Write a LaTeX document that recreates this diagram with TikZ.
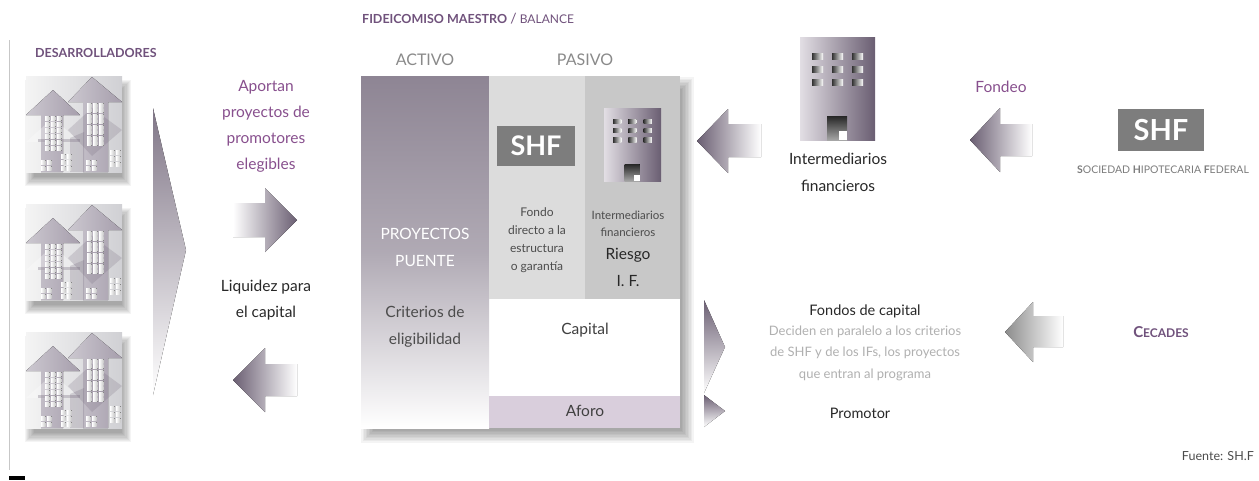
\documentclass[tikz,border=0pt]{standalone}
\usepackage{fontspec}
\setmainfont{Lato}

\definecolor{plum}{RGB}{112,82,124}
\definecolor{plumtxt}{RGB}{136,80,142}
\definecolor{arrdark}{RGB}{106,94,114}
\definecolor{actgray}{RGB}{142,133,148}
\definecolor{midgray}{RGB}{220,220,220}
\definecolor{rgtgray}{RGB}{200,200,200}
\definecolor{aforo}{RGB}{217,206,220}
\definecolor{shfgray}{RGB}{125,125,125}
\definecolor{txtgray}{RGB}{138,138,138}
\definecolor{softgray}{RGB}{176,176,176}
\definecolor{darktxt}{RGB}{40,40,40}
\definecolor{bldl}{RGB}{226,222,228}
\definecolor{bldr}{RGB}{106,94,114}
\definecolor{icbgl}{RGB}{244,244,244}
\definecolor{icbgr}{RGB}{208,208,212}
\definecolor{icarl}{RGB}{204,200,208}
\definecolor{icard}{RGB}{166,158,172}

\newcommand{\fsz}[2]{\fontsize{#1}{#2}\selectfont}
% soft shadow: rectangle #1,#2 -- #3,#4, offset #5,#6, blur radius #7
\newcommand{\softshadow}[7]{%
  \foreach \k in {0,...,8}{
    \pgfmathsetmacro{\ins}{-#7+\k*#7/4.5}
    \fill[black, opacity=0.045] (#1+#5+\ins, #2+#6+\ins) rectangle (#3+#5-\ins, #4+#6-\ins);
  }}

\tikzset{
  lbl/.style={inner sep=0pt, align=center},
  % stylized office tower, 75 x 103 in local units
  tower/.pic={
    \fill[left color=bldl, right color=bldr] (0,0) rectangle (75,103);
    \foreach \cx in {12,32,52}{
      \foreach \cy in {16,29,42}{
        \fill[left color=black!80, right color=white] (\cx,\cy) rectangle ++(11,6);
      }
    }
    \fill[top color=black!85, bottom color=black!35] (27,79) rectangle (47,103);
    \fill[white] (39,94) rectangle (47,103);
  },
  % developer icon: two rising building arrows, 96 x 96 in local units
  devicon/.pic={
    \softshadow{0}{0}{96}{96}{4}{9}{5}
    \fill[left color=icbgl, right color=icbgr] (0,0) rectangle (96,96);
    \fill[left color=icarl, right color=icard] (27,14) -- (54,39) -- (37,39) -- (37,96) -- (15,96) -- (15,39) -- (0,39) -- cycle;
    \fill[white, opacity=0.3] (0,66) -- (27,42) -- (54,66) -- cycle;
    \fill[left color=icarl, right color=icard] (66,1) -- (96,26) -- (82,26) -- (82,96) -- (57,96) -- (57,26) -- (42,26) -- cycle;
    \fill[arrdark, opacity=0.2] (42,54) -- (66,32) -- (96,54) -- (66,80) -- cycle;
    \fill[arrdark, opacity=0.3] (12,63) rectangle (54,66);
    \fill[arrdark, opacity=0.22] (44,62) -- (58,56) -- (58,96) -- (44,96) -- cycle;
    \foreach \cx in {19,25,31}{
      \foreach \k in {0,...,5}{
        \fill[left color=white, right color=black!22] (\cx,40+6*\k) rectangle ++(4.5,4.5);
      }
    }
    \foreach \cx in {61,67,73}{
      \foreach \k in {0,...,7}{
        \fill[left color=white, right color=black!22] (\cx,27+5.5*\k) rectangle ++(4.5,4);
      }
    }
    \foreach \cx/\cy in {15/84,21/84,15/90,21/90,35/78,41/78,35/84,41/84,35/90,41/90,
                         60/84,66/84,60/90,66/90,84/74,90/74,84/80,90/80,84/86,90/86}{
      \fill[left color=white, right color=black!22] (\cx,\cy) rectangle ++(4.5,4);
    }
  }
}

\begin{document}
\begin{tikzpicture}[x=1pt, y=-1pt]
\useasboundingbox (0,0) rectangle (1259,480);
\fill[white] (0,0) rectangle (1259,480);

% ---------- left margin rule ----------
\coordinate (rt) at (9,40);
\coordinate (rb) at (9,470);
\draw[black!22, line width=1pt] (rt) -- (rb);
\fill[black] (9,476) rectangle (25,480);

% ---------- developers ----------
\node[lbl, anchor=west, text=plum, font=\bfseries\fsz{12.5}{14}] (dev) at (35,53) {DESARROLLADORES};
\pic (ic1) at (26,76) {devicon};
\pic (ic2) at (26,204) {devicon};
\pic (ic3) at (26,332) {devicon};

% large wedge pointing to the flows
\fill[top color=arrdark!85, bottom color=white] (153,108) -- (186,250) -- (153,395) -- cycle;

\node[lbl, text=plumtxt, font=\fsz{15.5}{26}] (aportan) at (266,126) {Aportan\\proyectos de\\promotores\\elegibles};
\fill[left color=white, right color=arrdark] (233,203) -- (265,203) -- (265,188) -- (297,220) -- (265,252) -- (265,237) -- (233,237) -- cycle;
\node[lbl, text=darktxt, font=\fsz{15.5}{26}] (liq) at (266,300) {Liquidez para\\el capital};
\fill[left color=arrdark, right color=white] (233,380) -- (265,348) -- (265,364) -- (297,364) -- (297,396) -- (265,396) -- (265,412) -- cycle;

% ---------- trust balance ----------
\node[lbl, anchor=base west, font=\fsz{12.5}{14}] (title) at (362,23)
  {\textcolor{plum}{\bfseries FIDEICOMISO MAESTRO} \textcolor{plum}{\fsz{14}{14}/} \textcolor{plum}{\fsz{12}{14}BALANCE}};
\node[lbl, text=txtgray, font=\fsz{16}{16}] (activo) at (425,60) {ACTIVO};
\node[lbl, text=txtgray, font=\fsz{16}{16}] (pasivo) at (585,60) {PASIVO};

\softshadow{361}{76}{680}{428}{7}{8}{7}
\fill[white] (361,76) rectangle (680,428);
\fill[top color=actgray, bottom color=white, middle color=actgray!70!white] (361,76) rectangle (489,428);
\fill[midgray] (489,76) rectangle (585,299);
\fill[rgtgray] (585,76) rectangle (680,299);
\fill[aforo] (489,396) rectangle (680,428);

\node[lbl, text=white, font=\fsz{15.5}{27}] (puente) at (425,247) {PROYECTOS\\PUENTE};
\node[lbl, text=black!70, font=\fsz{15.5}{27}] (crit) at (425,327) {Criterios de\\eligibilidad};

\node[fill=shfgray, text=white, inner sep=0pt, minimum width=78pt, minimum height=40pt,
      font=\bfseries\fsz{27}{27}] (shfa) at (536,146) {SHF};
\node[lbl, text=black!70, font=\fsz{12}{18}] (fondo) at (537,240) {Fondo\\directo a la\\estructura\\o garantía};

\pic[xscale=0.76, yscale=0.71] (twa) at (604,108) {tower};
\node[lbl, text=black!70, font=\fsz{11.5}{17}] (ifa) at (628,224) {Intermediarios\\financieros};
\node[lbl, text=darktxt, font=\fsz{15.5}{27}] (riesgo) at (628,267) {Riesgo\\I. F.};

\node[lbl, text=black!75, font=\fsz{15.5}{16}] (capital) at (585,330) {Capital};
\node[lbl, text=black!75, font=\fsz{15.5}{16}] (aforotxt) at (585,411) {Aforo};

% ---------- financial intermediaries ----------
\fill[left color=arrdark, right color=white] (697,141) -- (728,109) -- (728,124) -- (761,124) -- (761,157) -- (728,157) -- (728,173) -- cycle;
\pic (twb) at (800,37) {tower};
\node[lbl, text=darktxt, font=\fsz{15.5}{27}] (ifb) at (838,172) {Intermediarios\\financieros};

\node[lbl, text=plumtxt, font=\fsz{15.5}{16}] (fondeo) at (1001,87) {Fondeo};
\fill[left color=arrdark, right color=white] (970,140) -- (1000,108) -- (1000,124) -- (1032,124) -- (1032,156) -- (1000,156) -- (1000,172) -- cycle;

\node[fill=shfgray, text=white, inner sep=0pt, minimum width=86pt, minimum height=42pt,
      font=\bfseries\fsz{29}{29}] (shfb) at (1161,130) {SHF};
\node[lbl, text=shfgray, font=\fsz{10.5}{11}] (shfname) at (1163,170)
  {{\bfseries S}OCIEDAD {\bfseries H}IPOTECARIA {\bfseries F}EDERAL};

% ---------- capital funds and promoter ----------
\fill[top color=arrdark, bottom color=white] (704,300) -- (725,347) -- (704,393) -- cycle;
\fill[top color=arrdark, bottom color=white] (704,395) -- (725,411) -- (704,427) -- cycle;

\node[lbl, text=darktxt, font=\fsz{14.5}{16}] (fondos) at (865,311) {Fondos de capital};
\node[lbl, text=softgray, font=\fsz{13}{21.5}] (deciden) at (865,353)
  {Deciden en paralelo a los criterios\\de SHF y de los IFs, los proyectos\\que entran al programa};
\node[lbl, text=darktxt, font=\fsz{14.5}{16}] (promotor) at (860,413) {Promotor};

\fill[left color=black!45, right color=white] (1005,332) -- (1033,302) -- (1033,316) -- (1063,316) -- (1063,347) -- (1033,347) -- (1033,362) -- cycle;
\node[lbl, text=plum, font=\bfseries] (cecades) at (1161,332) {{\fsz{15}{15}C}{\fsz{12}{15}ECADES}};

\node[lbl, anchor=east, text=black!70, font=\fsz{12.5}{14}] (fuente) at (1254,456) {Fuente: SH.F};
\end{tikzpicture}
\end{document}
